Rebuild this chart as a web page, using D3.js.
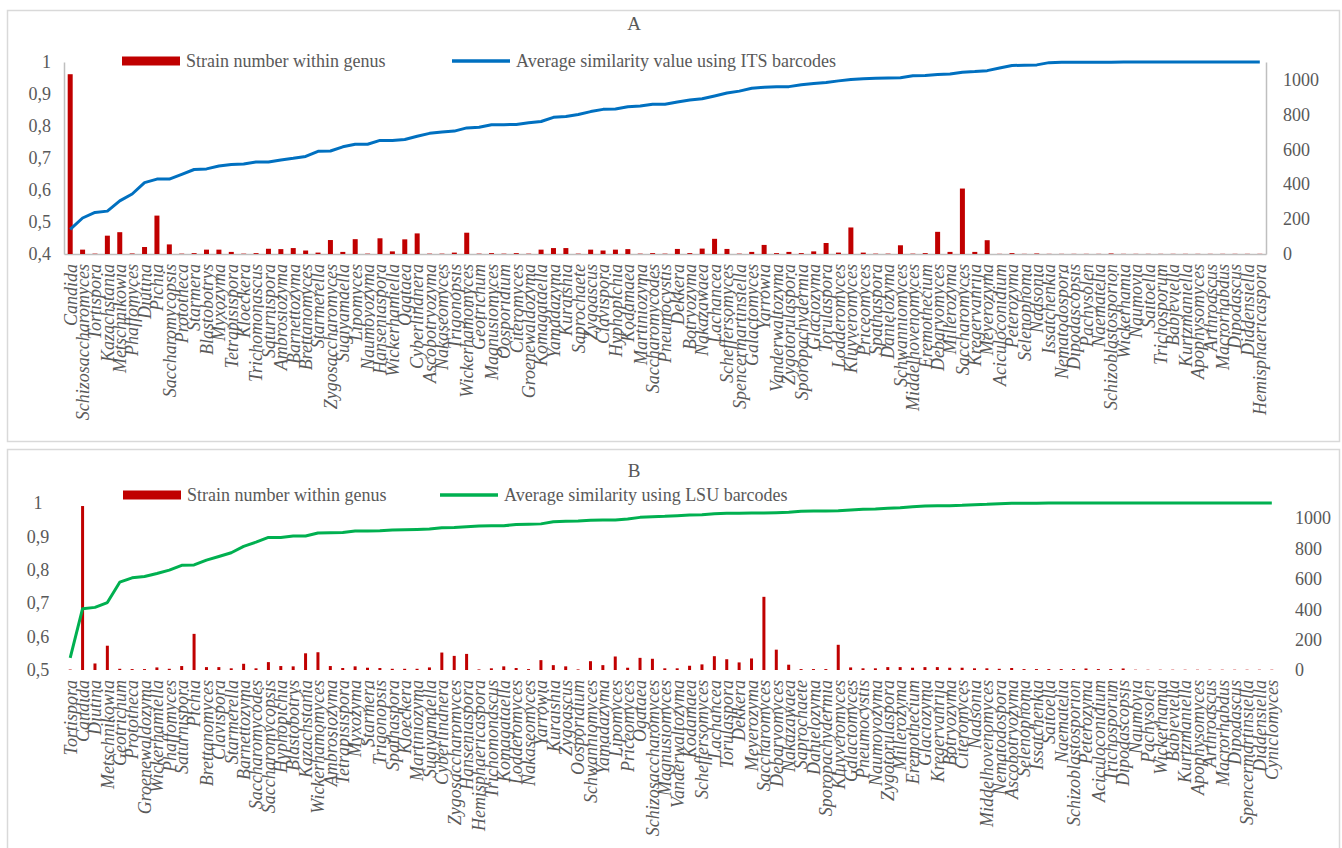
<!DOCTYPE html>
<html>
<head>
<meta charset="utf-8">
<script src="https://cdn.jsdelivr.net/npm/d3@7/dist/d3.min.js"></script>
<style>
  body { margin: 0; background: #fff; }
</style>
</head>
<body>
<svg id="chart" width="1342" height="848"></svg>
<script>
// ---------- panel A : ITS barcodes ----------
var itsGenera = ["Candida","Schizosaccharomyces","Tortispora","Kazachstania","Metschnikowia","Phaffomyces","Diutina","Pichia",
  "Saccharomycopsis","Prototheca","Starmera","Blastobotrys","Myxozyma","Tetrapisispora","Kloeckera","Trichomonascus",
  "Saturnispora","Ambrosiozyma","Barnettozyma","Brettanomyces","Starmerella","Zygosaccharomyces","Sugiyamaella","Lipomyces",
  "Naumovozyma","Hanseniaspora","Wickerhamiella","Ogataea","Cyberlindnera","Ascobotryozyma","Nakaseomyces","Trigonopsis",
  "Wickerhamomyces","Geotrichum","Magnusiomyces","Oosporidium","Citeromyces","Groenewaldozyma","Komagataella","Yamadazyma",
  "Kuraishia","Saprochaete","Zygoascus","Clavispora","Hyphopichia","Kodamaea","Martiniozyma","Saccharomycodes",
  "Pneumocystis","Dekkera","Botryozyma","Nakazawaea","Lachancea","Scheffersomyces","Spencermartinsiella","Galactomyces",
  "Yarrowia","Vanderwaltozyma","Zygotorulaspora","Sporopachydermia","Glaciozyma","Torulaspora","Lodderomyces","Kluyveromyces",
  "Priceomyces","Spathaspora","Danielozyma","Schwanniomyces","Middelhovenomyces","Eremothecium","Debaryomyces","Millerozyma",
  "Saccharomyces","Kregervanrija","Meyerozyma","Aciculoconidium","Peterozyma","Selenophoma","Nadsonia","Issatchenkia",
  "Nematodospora","Dipodascopsis","Pachysolen","Naematelia","Schizoblastosporion","Wickerhamia","Naumovia","Saitoella",
  "Trichosporum","Babjeviella","Kurtzmaniella","Apophysomyces","Arthroascus","Macrorhabdus","Dipodascus","Diddensiella",
  "Hemisphaericaspora"];

var itsStrains = [1030,25,2,105,125,3,40,220,55,2,5,25,25,12,2,5,
  30,28,34,20,8,80,12,85,2,90,15,84,118,2,2,8,
  122,2,5,2,5,2,25,34,34,2,25,20,25,28,2,5,
  2,29,5,31,87,29,2,12,52,5,12,5,15,63,8,152,
  8,2,2,50,2,5,127,12,375,12,79,1,5,1,3,1,
  1,1,1,1,3,1,1,1,1,1,1,1,1,1,1,1,1];

var itsSimilarity = [0.477,0.5125,0.530,0.534,0.566,0.5875,0.623,0.634,0.634,0.649,0.664,0.666,0.675,0.680,0.681,0.6875,
  0.6875,0.694,0.699,0.705,0.721,0.722,0.735,0.743,0.743,0.755,0.755,0.758,0.768,0.777,0.781,0.784,
  0.794,0.796,0.804,0.804,0.805,0.810,0.814,0.827,0.830,0.836,0.845,0.852,0.853,0.860,0.8625,0.868,
  0.868,0.875,0.881,0.885,0.894,0.903,0.909,0.918,0.921,0.923,0.923,0.929,0.933,0.936,0.941,0.945,
  0.948,0.949,0.950,0.951,0.957,0.958,0.961,0.9625,0.968,0.970,0.973,0.981,0.989,0.990,0.991,0.998,
  0.999,0.9992,0.9994,0.9995,0.9996,0.9997,0.9998,0.9999,1,1,1,1,1,1,1,1,1];

// ---------- panel B : LSU barcodes ----------
var lsuGenera = ["Tortispora","Candida","Diutina","Metschnikowia","Geotrichum","Prototheca","Groenewaldozyma","Wickerhamiella",
  "Phaffomyces","Saturnispora","Pichia","Brettanomyces","Clavispora","Starmerella","Barnettozyma","Saccharomycodes",
  "Saccharomycopsis","Hyphopichia","Blastobotrys","Kazachstania","Wickerhamomyces","Ambrosiozyma","Tetrapisispora","Myxozyma",
  "Starmera","Trigonopsis","Spathaspora","Kloeckera","Martiniozyma","Sugiyamaella","Cyberlindnera","Zygosaccharomyces",
  "Hanseniaspora","Hemisphaericaspora","Trichomonascus","Komagataella","Lodderomyces","Nakaseomyces","Yarrowia","Kuraishia",
  "Zygoascus","Oosporidium","Schwanniomyces","Yamadazyma","Lipomyces","Priceomyces","Ogataea","Schizosaccharomyces",
  "Magnusiomyces","Vanderwaltozyma","Kodamaea","Scheffersomyces","Lachancea","Torulaspora","Dekkera","Meyerozyma",
  "Saccharomyces","Debaryomyces","Nakazawaea","Saprochaete","Danielozyma","Sporopachydermia","Kluyveromyces","Galactomyces",
  "Pneumocystis","Naumovozyma","Zygotorulaspora","Millerozyma","Eremothecium","Glaciozyma","Kregervanrija","Botryozyma",
  "Citeromyces","Nadsonia","Middelhovenomyces","Nematodospora","Ascobotryozyma","Selenophoma","Issatchenkia","Saitoella",
  "Naematelia","Schizoblastosporion","Peterozyma","Aciculoconidium","Trichosporum","Dipodascopsis","Naumovia","Pachysolen",
  "Wickerhamia","Babjeviella","Kurtzmaniella","Apophysomyces","Arthroascus","Macrorhabdus","Dipodascus","Spencermartinsiella",
  "Diddensiella","Cyniclomyces"];

var lsuStrains = [3,1080,43,160,8,6,6,17,8,26,238,19,19,11,41,11,
  52,26,24,110,117,26,13,24,15,13,8,8,8,17,115,93,
  106,4,11,24,13,6,65,32,24,4,58,32,89,15,80,74,
  11,11,28,37,91,71,50,76,482,134,35,6,6,6,166,17,
  11,11,19,19,15,19,19,15,15,11,11,8,13,6,6,6,
  6,6,10,6,6,10,2,2,2,2,2,2,2,2,2,2,2,2];

var lsuSimilarity = [0.536,0.6835,0.6875,0.702,0.763,0.776,0.780,0.789,0.799,0.8135,0.8145,0.829,0.840,0.851,0.870,0.883,
  0.897,0.897,0.901,0.901,0.910,0.911,0.912,0.916,0.916,0.917,0.919,0.920,0.921,0.922,0.926,0.927,
  0.929,0.931,0.932,0.932,0.9355,0.9365,0.9375,0.944,0.945,0.946,0.948,0.949,0.949,0.952,0.957,0.959,
  0.960,0.962,0.964,0.965,0.968,0.969,0.969,0.970,0.970,0.971,0.972,0.975,0.976,0.976,0.977,0.979,
  0.981,0.982,0.984,0.986,0.989,0.991,0.992,0.992,0.993,0.995,0.996,0.998,0.999,0.9993,0.9995,0.9997,
  1,1,1,1,1,1,1,1,1,1,1,1,1,1,1,1,1,1];

// axis ticks
var itsLeftTicks = [0.4, 0.5, 0.6, 0.7, 0.8, 0.9, 1];
var lsuLeftTicks = [0.5, 0.6, 0.7, 0.8, 0.9, 1];
var strainTicks = [0, 200, 400, 600, 800, 1000];
var strainMax = 1100;

var FONT = "'Times New Roman', 'Liberation Serif', serif";
var TEXT_COLOR = "#595959";

var svg = d3.select("#chart");

// panel frames
svg.append("rect").attr("x", 7.5).attr("y", 10.5).attr("width", 1332).attr("height", 431)
  .attr("fill", "#fff").attr("stroke", "#d9d9d9").attr("stroke-width", 1.5);
svg.append("rect").attr("x", 7.5).attr("y", 449.5).attr("width", 1332).attr("height", 420)
  .attr("fill", "#fff").attr("stroke", "#d9d9d9").attr("stroke-width", 1.5);

drawPanel({
  title: "A", titleY: 30,
  genera: itsGenera, strains: itsStrains, similarity: itsSimilarity, leftTicks: itsLeftTicks,
  left: 64, right: 1266, top: 62, bottom: 254,
  barWidth: 5, lineColor: "#0070c0",
  showAxisLines: true, leftAnchor: "end", leftLabelX: -13,
  legendY: 61, legendRectX: 122, legendLineX: 452,
  lineLabel: "Average similarity value using ITS barcodes"
});

drawPanel({
  title: "B", titleY: 477,
  genera: lsuGenera, strains: lsuStrains, similarity: lsuSimilarity, leftTicks: lsuLeftTicks,
  left: 64, right: 1278, top: 503, bottom: 670,
  barWidth: 3, lineColor: "#00b050",
  showAxisLines: false, leftAnchor: "middle", leftLabelX: -26,
  legendY: 495, legendRectX: 123, legendLineX: 440,
  lineLabel: "Average similarity using LSU barcodes"
});

function styleText(sel, size) {
  sel.attr("font-family", FONT)
    .style("font-family", FONT)
    .style("font-size", size + "px")
    .attr("fill", TEXT_COLOR);
}

function drawPanel(cfg) {
  var x = d3.scaleBand()
    .domain(cfg.genera)
    .range([cfg.left, cfg.right]);
  var yLeft = d3.scaleLinear()
    .domain([cfg.leftTicks[0], 1])
    .range([cfg.bottom, cfg.top]);
  var yRight = d3.scaleLinear()
    .domain([0, strainMax])
    .range([cfg.bottom, cfg.top]);

  var g = svg.append("g");

  // title
  g.append("text").attr("x", 634).attr("y", cfg.titleY)
    .attr("text-anchor", "middle").text(cfg.title)
    .call(styleText, 19);

  // legend
  g.append("rect").attr("x", cfg.legendRectX).attr("y", cfg.legendY - 4.5)
    .attr("width", 58).attr("height", 9).attr("fill", "#c00000");
  g.append("text").attr("x", cfg.legendRectX + 64).attr("y", cfg.legendY).attr("dy", "0.32em")
    .text("Strain number within genus").call(styleText, 18);
  g.append("line").attr("x1", cfg.legendLineX).attr("x2", cfg.legendLineX + 58)
    .attr("y1", cfg.legendY).attr("y2", cfg.legendY)
    .attr("stroke", cfg.lineColor).attr("stroke-width", 3.5);
  g.append("text").attr("x", cfg.legendLineX + 64).attr("y", cfg.legendY).attr("dy", "0.32em")
    .text(cfg.lineLabel).call(styleText, 18);

  var data = cfg.genera.map(function(name, i) {
    return {genus: name, strains: cfg.strains[i], sim: cfg.similarity[i]};
  });

  // left axis
  var leftAxis = g.append("g")
    .attr("transform", "translate(" + cfg.left + ",0)")
    .call(d3.axisLeft(yLeft).tickValues(cfg.leftTicks).tickSize(0)
      .tickFormat(function(d) { return d3.format(".1~f")(d).replace(".", ","); }));
  leftAxis.selectAll("text")
    .attr("x", cfg.leftLabelX).style("text-anchor", cfg.leftAnchor)
    .call(styleText, 18);

  // right axis
  var rightAxis = g.append("g")
    .attr("transform", "translate(" + cfg.right + ",0)")
    .call(d3.axisRight(yRight).tickValues(strainTicks).tickSize(0).tickPadding(17)
      .tickFormat(d3.format("d")));
  rightAxis.selectAll("text").call(styleText, 18);

  // category axis with vertical italic labels
  var bottomAxis = g.append("g")
    .attr("transform", "translate(0," + cfg.bottom + ")")
    .call(d3.axisBottom(x).tickSize(0));
  bottomAxis.selectAll("text")
    .attr("transform", "rotate(-90)")
    .attr("x", -10).attr("y", 0).attr("dy", "0.35em")
    .style("text-anchor", "end")
    .style("font-style", "italic")
    .call(styleText, 18);

  [leftAxis, rightAxis, bottomAxis].forEach(function(a) {
    a.attr("font-family", FONT);
    a.select(".domain")
      .attr("stroke", cfg.showAxisLines ? "#bfbfbf" : "none")
      .attr("stroke-width", 1.5);
  });

  // bars (right axis)
  g.selectAll(".bar")
    .data(data)
    .enter().append("rect")
    .attr("class", "bar")
    .attr("x", function(d) { return x(d.genus) + (x.bandwidth() - cfg.barWidth) / 2; })
    .attr("width", cfg.barWidth)
    .attr("y", function(d) { return yRight(d.strains); })
    .attr("height", function(d) { return cfg.bottom - yRight(d.strains); })
    .attr("fill", "#c00000");

  // similarity line (left axis)
  var line = d3.line()
    .x(function(d) { return x(d.genus) + x.bandwidth() / 2; })
    .y(function(d) { return yLeft(d.sim); });

  g.append("path")
    .datum(data)
    .attr("d", line)
    .attr("fill", "none")
    .attr("stroke", cfg.lineColor)
    .attr("stroke-width", 3)
    .attr("stroke-linejoin", "round");
}
</script>
</body>
</html>
